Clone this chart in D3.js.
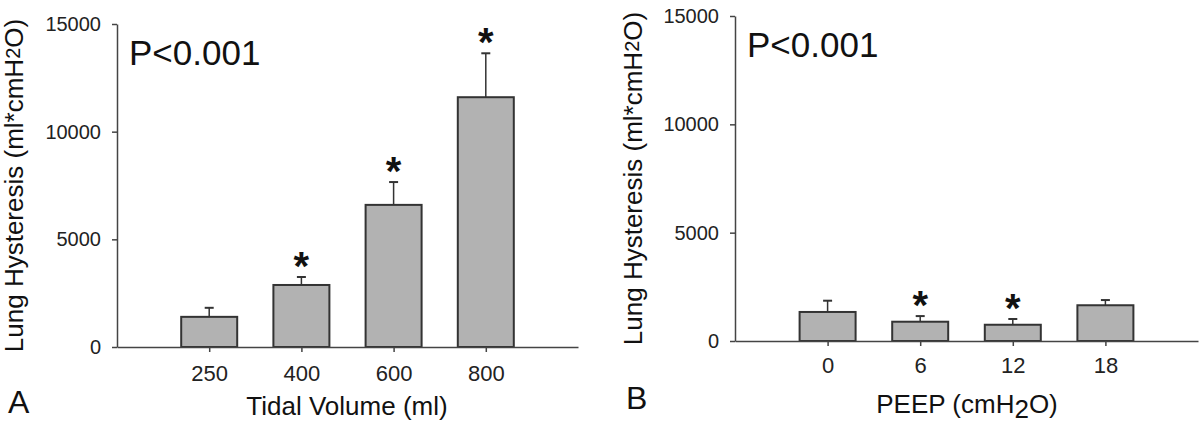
<!DOCTYPE html>
<html>
<head>
<meta charset="utf-8">
<script src="https://cdn.jsdelivr.net/npm/d3@7"></script>
<style>
  body { margin: 0; background: #fff; }
  svg { display: block; font-family: "Liberation Sans", Arial, sans-serif; }
  .axis path, .axis line { stroke: #444; stroke-width: 1.5; }
  .axis text { fill: #222; }
</style>
</head>
<body>
<svg id="chart" width="1200" height="429"></svg>
<script>
// Panel A data - tidal volume
var tvCategories = ["250", "400", "600", "800"];
var tvMeans = [1400, 2880, 6600, 11600];
var tvErrors = [420, 370, 1060, 2040];
var tvStars = [false, true, true, true];

// Panel B data - PEEP
var peepCategories = ["0", "6", "12", "18"];
var peepMeans = [1340, 890, 750, 1650];
var peepErrors = [520, 260, 265, 240];
var peepStars = [false, true, true, false];

var yTicks = [0, 5000, 10000, 15000];

var svg = d3.select("#chart");
var barFill = "#b2b2b2";
var barStroke = "#333";

// draws one bar panel
var drawPanel = function(opts) {
  var g = svg.append("g");

  var xScale = d3.scalePoint()
                 .domain(opts.categories)
                 .range([opts.left, opts.right])
                 .padding(1);
  var yScale = d3.scaleLinear()
                 .domain([0, 15000])
                 .range([opts.bottom, opts.top]);

  // y axis
  g.append("g")
   .attr("class", "axis")
   .attr("transform", "translate(" + opts.left + ",0)")
   .call(d3.axisLeft(yScale).tickValues(yTicks).tickSize(5).tickSizeOuter(0).tickPadding(11).tickFormat(d3.format("d")))
   .selectAll("text")
   .style("font-size", "20px");

  var rows = opts.categories.map(function(c, i) {
    return { cat: c, mean: opts.means[i], err: opts.errors[i], star: opts.stars[i] };
  });
  var bw = 56;

  // error bars (upper only)
  g.selectAll(".errLine")
   .data(rows)
   .enter()
   .append("line")
   .attr("x1", function(d) { return xScale(d.cat); })
   .attr("x2", function(d) { return xScale(d.cat); })
   .attr("y1", function(d) { return yScale(d.mean); })
   .attr("y2", function(d) { return yScale(d.mean + d.err); })
   .style("stroke", barStroke)
   .style("stroke-width", 1.5);
  g.selectAll(".errCap")
   .data(rows)
   .enter()
   .append("line")
   .attr("x1", function(d) { return xScale(d.cat) - 4.5; })
   .attr("x2", function(d) { return xScale(d.cat) + 4.5; })
   .attr("y1", function(d) { return yScale(d.mean + d.err); })
   .attr("y2", function(d) { return yScale(d.mean + d.err); })
   .style("stroke", barStroke)
   .style("stroke-width", 2);

  // bars
  g.selectAll(".bar")
   .data(rows)
   .enter()
   .append("rect")
   .attr("x", function(d) { return xScale(d.cat) - bw / 2; })
   .attr("y", function(d) { return yScale(d.mean); })
   .attr("width", bw)
   .attr("height", function(d) { return yScale(0) - yScale(d.mean); })
   .style("fill", barFill)
   .style("stroke", barStroke)
   .style("stroke-width", 2);

  // x axis
  g.append("g")
   .attr("class", "axis")
   .attr("transform", "translate(0," + opts.bottom + ")")
   .call(d3.axisBottom(xScale).tickSize(5).tickSizeOuter(0).tickPadding(opts.xPad))
   .selectAll("text")
   .style("font-size", "22px");

  // significance stars
  g.selectAll(".star")
   .data(rows.filter(function(d) { return d.star; }))
   .enter()
   .append("text")
   .attr("x", function(d) { return xScale(d.cat); })
   .attr("y", function(d) { return yScale(d.mean + d.err) + 3; })
   .attr("text-anchor", "middle")
   .style("font-size", "40px")
   .style("font-weight", "bold")
   .style("fill", "#111")
   .text("*");

  // p value
  g.append("text")
   .attr("x", opts.left + 12)
   .attr("y", opts.top + opts.pDy)
   .style("font-size", "35px")
   .style("fill", "#111")
   .text("P<0.001");

  // y title
  var yt = g.append("text")
            .attr("transform", "translate(" + opts.yTitleX + "," + ((opts.top + opts.bottom) / 2) + ") rotate(-90)")
            .attr("text-anchor", "middle")
            .style("font-size", "26px")
            .style("fill", "#111");
  yt.append("tspan").text("Lung Hysteresis (ml*cmH");
  yt.append("tspan").attr("dy", -3).style("font-size", "20px").text("2");
  yt.append("tspan").attr("dy", 3).text("O)");

  // panel letter
  g.append("text")
   .attr("x", opts.letterX)
   .attr("y", opts.letterY)
   .style("font-size", "32px")
   .style("fill", "#111")
   .text(opts.letter);

  return g;
};

var gA = drawPanel({
  categories: tvCategories, means: tvMeans, errors: tvErrors, stars: tvStars,
  left: 117, right: 578, top: 24, bottom: 347, xPad: 13,
  pDy: 41, yTitleX: 23, letter: "A", letterX: 8, letterY: 413
});
gA.append("text")
  .attr("x", 347)
  .attr("y", 415)
  .attr("text-anchor", "middle")
  .style("font-size", "26px")
  .style("fill", "#111")
  .text("Tidal Volume (ml)");

var gB = drawPanel({
  categories: peepCategories, means: peepMeans, errors: peepErrors, stars: peepStars,
  left: 735, right: 1198, top: 16, bottom: 341, xPad: 11,
  pDy: 41, yTitleX: 642, letter: "B", letterX: 626, letterY: 409
});
var xtB = gB.append("text")
  .attr("x", 967)
  .attr("y", 413)
  .attr("text-anchor", "middle")
  .style("font-size", "26px")
  .style("fill", "#111");
xtB.append("tspan").text("PEEP (cmH");
xtB.append("tspan").attr("dy", 5).text("2");
xtB.append("tspan").attr("dy", -5).text("O)");
</script>
</body>
</html>
